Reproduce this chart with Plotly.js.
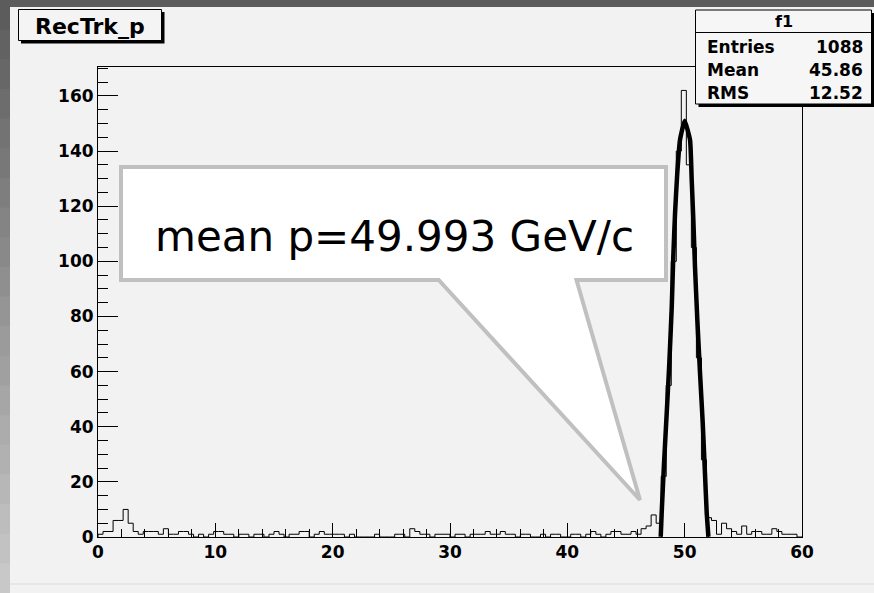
<!DOCTYPE html>
<html>
<head>
<meta charset="utf-8">
<script src="https://cdn.plot.ly/plotly-3.0.1.min.js"></script>
<style>
html,body{margin:0;padding:0;background:#f2f2f2;}
#chart{width:874px;height:593px;}
</style>
</head>
<body>
<div id="chart"></div>
<script>
// ---- data ----
const histTitle = 'RecTrk_p';
const statsTitle = 'f1';
const statsLabels = ['Entries', 'Mean', 'RMS'];
const statsValues = ['1088', '45.86', '12.52'];
const calloutText = 'mean p=49.993 GeV/c';

const xMin = 0;
const xMax = 60;
// 140 bins between xMin and xMax
const counts = [
  1, 2, 2, 6, 6, 10, 5, 2, 1, 2,
  2, 2, 1, 3, 1, 1, 2, 2, 1, 0,
  1, 0, 1, 2, 2, 1, 1, 0, 1, 1,
  0, 1, 1, 0, 1, 2, 1, 0, 1, 1,
  2, 2, 0, 1, 2, 1, 1, 1, 1, 0,
  1, 0, 0, 0, 0, 1, 0, 0, 0, 1,
  1, 0, 3, 2, 1, 1, 0, 1, 1, 1,
  0, 1, 1, 0, 1, 1, 1, 2, 1, 1,
  2, 1, 1, 0, 1, 1, 0, 0, 1, 0,
  1, 1, 0, 0, 1, 1, 0, 1, 2, 1,
  0, 1, 2, 2, 1, 1, 2, 1, 3, 4,
  8, 5, 22, 55, 100, 140, 162, 135, 105, 65,
  28, 7, 6, 1, 5, 3, 2, 1, 4, 1,
  2, 2, 1, 1, 3, 2, 1, 1, 1, 0
];

// fit curve points
const fitX = [47.96, 48.04, 48.24, 48.47, 48.69, 48.90, 49.03, 49.18, 49.37, 49.60, 50.00, 50.46, 50.60, 50.74, 50.88, 51.08, 51.31, 51.54, 51.73, 51.88, 52.02];
const fitY = [0.1, 8.6, 26.7, 44.9, 63.0, 83.6, 101.7, 117.5, 132.0, 144.0, 151.0, 144.0, 129.5, 115.0, 98.0, 78.7, 59.4, 41.3, 23.1, 8.6, 0.1];

// ---- build histogram outline ----
const nBins = counts.length;
const bw = (xMax - xMin) / nBins;
const hx = [xMin], hy = [0];
for (let i = 0; i < nBins; i++) { hx.push(xMin + i * bw); hy.push(counts[i]); }
hx.push(xMax); hy.push(counts[nBins - 1]);
hx.push(xMax); hy.push(0);

// ---- geometry helpers (pixel -> paper) ----
const W = 874, H = 593;
const M = {l: 98, r: 72, t: 67, b: 56};
const PW = W - M.l - M.r, PH = H - M.t - M.b;
const px = x => (x - M.l) / PW;
const py = y => (H - M.b - y) / PH;

const FONT = 'DejaVu Sans';
const shapes = [];
const annotations = [];

// left gradient strip
const nBands = 20;
for (let k = 0; k < nBands; k++) {
  const c = Math.round(0x5c + (0xc8 - 0x5c) * k / (nBands - 1));
  const col = 'rgb(' + c + ',' + c + ',' + c + ')';
  shapes.push({type: 'rect', xref: 'paper', yref: 'paper', layer: 'above',
    x0: px(0), x1: px(10), y0: py(k * H / nBands), y1: py((k + 1) * H / nBands + 1),
    fillcolor: col, line: {width: 0}});
}
// top dark strip
shapes.push({type: 'rect', xref: 'paper', yref: 'paper', layer: 'above',
  x0: px(0), x1: px(W), y0: py(0), y1: py(7), fillcolor: '#5c5c5c', line: {width: 0}});
// faint canvas bottom edge
shapes.push({type: 'line', xref: 'paper', yref: 'paper', layer: 'above',
  x0: px(10), x1: px(W), y0: py(584), y1: py(584), line: {color: '#dadada', width: 1}});

// title box with shadow
shapes.push({type: 'rect', xref: 'paper', yref: 'paper', layer: 'above',
  x0: px(21), x1: px(164.5), y0: py(12), y1: py(43.5), fillcolor: '#000', line: {width: 0}});
shapes.push({type: 'rect', xref: 'paper', yref: 'paper', layer: 'above',
  x0: px(18.5), x1: px(161.5), y0: py(9.5), y1: py(40.5), fillcolor: '#f4f4f4', line: {color: '#000', width: 1}});
annotations.push({xref: 'paper', yref: 'paper', x: px(90), y: py(26), xanchor: 'center', yanchor: 'middle',
  text: histTitle, showarrow: false, font: {family: FONT, size: 22, weight: 'bold', color: '#000'}});

// stats box with shadow
shapes.push({type: 'rect', xref: 'paper', yref: 'paper', layer: 'above',
  x0: px(698.5), x1: px(874), y0: py(13), y1: py(107), fillcolor: '#000', line: {width: 0}});
shapes.push({type: 'rect', xref: 'paper', yref: 'paper', layer: 'above',
  x0: px(695.5), x1: px(871.5), y0: py(10), y1: py(104), fillcolor: '#f6f6f6', line: {color: '#000', width: 1}});
shapes.push({type: 'line', xref: 'paper', yref: 'paper', layer: 'above',
  x0: px(695.5), x1: px(871.5), y0: py(32.5), y1: py(32.5), line: {color: '#000', width: 1}});
annotations.push({xref: 'paper', yref: 'paper', x: px(784), y: py(21.5), xanchor: 'center', yanchor: 'middle',
  text: statsTitle, showarrow: false, font: {family: FONT, size: 16, weight: 'bold', color: '#000'}});
const rowY = [47.5, 70.5, 93];
for (let r = 0; r < statsLabels.length; r++) {
  annotations.push({xref: 'paper', yref: 'paper', x: px(705), y: py(rowY[r]), xanchor: 'left', yanchor: 'middle',
    text: statsLabels[r], showarrow: false, font: {family: FONT, size: 17, weight: 'bold', color: '#000'}});
  annotations.push({xref: 'paper', yref: 'paper', x: px(865), y: py(rowY[r]), xanchor: 'right', yanchor: 'middle',
    text: statsValues[r], showarrow: false, font: {family: FONT, size: 17, weight: 'bold', color: '#000'}});
}

// callout
const cp = [[121, 167], [666, 167], [666, 280], [576.5, 280], [640, 500], [438.7, 280], [121, 280]];
let path = '';
cp.forEach((p, i) => { path += (i === 0 ? 'M ' : ' L ') + px(p[0]).toFixed(5) + ' ' + py(p[1]).toFixed(5); });
path += ' Z';
shapes.push({type: 'path', xref: 'paper', yref: 'paper', layer: 'above', path: path,
  fillcolor: '#ffffff', line: {color: '#c0c0c0', width: 4}});
annotations.push({xref: 'paper', yref: 'paper', x: px(394), y: py(237), xanchor: 'center', yanchor: 'middle',
  text: calloutText, showarrow: false, font: {family: FONT, size: 42, color: '#000'}});

const traces = [
  {x: hx, y: hy, type: 'scatter', mode: 'lines', line: {shape: 'hv', color: '#000', width: 1}, hoverinfo: 'skip'},
  {x: fitX, y: fitY, type: 'scatter', mode: 'lines', line: {shape: 'spline', smoothing: 0.4, color: '#000', width: 4.5}, hoverinfo: 'skip'}
];

const axisCommon = {
  showgrid: false, zeroline: false, showline: true, linecolor: '#000', linewidth: 1, mirror: true,
  ticks: 'inside', tickcolor: '#000', tickwidth: 1,
  tickfont: {family: FONT, size: 17, weight: 'bold', color: '#000'}
};

const layout = {
  width: W, height: H,
  margin: M,
  paper_bgcolor: '#f2f2f2',
  plot_bgcolor: '#f2f2f2',
  showlegend: false,
  xaxis: Object.assign({}, axisCommon, {range: [xMin, xMax], tick0: 0, dtick: 10, ticklen: 14,
    minor: {ticks: 'inside', ticklen: 8, dtick: 2, tickcolor: '#000', tickwidth: 1, showgrid: false}}),
  yaxis: Object.assign({}, axisCommon, {range: [0, 170.5], tick0: 0, dtick: 20, ticklen: 20,
    minor: {ticks: 'inside', ticklen: 10, dtick: 5, tickcolor: '#000', tickwidth: 1, showgrid: false}}),
  shapes: shapes,
  annotations: annotations
};

Plotly.newPlot('chart', traces, layout, {staticPlot: true, displayModeBar: false});
</script>
</body>
</html>
